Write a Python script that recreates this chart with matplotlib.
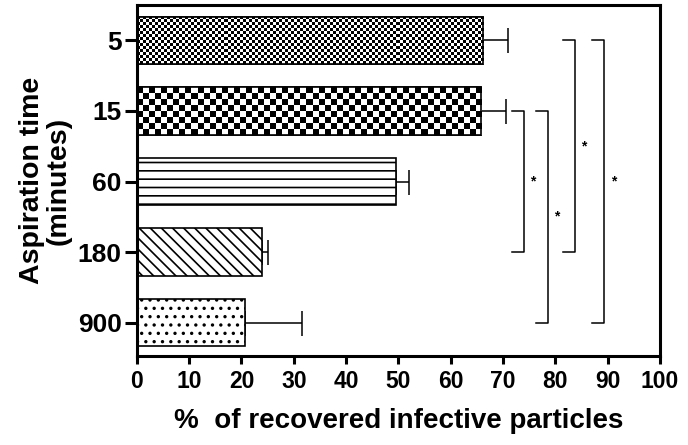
import numpy as np
import matplotlib
matplotlib.use("Agg")
import matplotlib.pyplot as plt

plt.rcParams["font.family"] = ["Liberation Sans", "DejaVu Sans"]
plt.rcParams["font.weight"] = "bold"
plt.rcParams["hatch.linewidth"] = 1.2

times = ["5", "15", "60", "180", "900"]
recovered = [66.2, 65.8, 49.5, 23.9, 20.6]
err_up = [4.8, 4.7, 2.6, 1.1, 11.0]

# significance brackets: (row a, row b, x position)
brackets = [(1, 3, 74.0), (1, 4, 78.6), (0, 3, 83.8), (0, 4, 89.4)]

fig = plt.figure(figsize=(6.88, 4.45), dpi=100)
ax = fig.add_axes([0.199, 0.2, 0.76, 0.789])

y = np.arange(len(times))
h = 0.67
bars = ax.barh(y, recovered, height=h, color="white", edgecolor="black",
               linewidth=1.2, zorder=2)

# hatches for the line/dot bars
bars[2].set_hatch("--")
bars[3].set_hatch("\\\\\\")
bars[4].set_hatch("..")

# checkerboards for the first two bars, clipped to the bar
px_x = 5.21        # pixels per x unit
px_y = 70.5        # pixels per row
for i, cell in [(0, 3.0), (1, 6.0)]:
    ncol = int(round(recovered[i] * px_x / cell))
    nrow = int(round(h * px_y / cell))
    board = (np.add.outer(np.arange(nrow), np.arange(ncol)) % 2).astype(float)
    im = ax.imshow(board, cmap="gray", interpolation="nearest", aspect="auto",
                   extent=(0, recovered[i], y[i] + h / 2, y[i] - h / 2), zorder=2.5)
    im.set_clip_path(bars[i])
    ax.barh(y[i], recovered[i], height=h, color="none", edgecolor="black",
            linewidth=1.2, zorder=3)

ax.errorbar(recovered, y, xerr=[np.zeros(len(y)), err_up], fmt="none",
            ecolor="black", elinewidth=1.1, capsize=9, capthick=1.1, zorder=1)

for a, b, xb in brackets:
    ax.plot([xb - 2.3, xb, xb, xb - 2.3], [y[a], y[a], y[b], y[b]],
            color="black", lw=1.1, clip_on=False)
    ax.text(xb + 1.7, (y[a] + y[b]) / 2, "*", ha="center", va="center",
            fontsize=10)

ax.set_xlim(0, 100)
ax.set_ylim(4.47, -0.5)
ax.set_xticks(np.arange(0, 101, 10))
ax.set_yticks(y)
ax.set_yticklabels(times)
for s in ax.spines.values():
    s.set_linewidth(2.2)
ax.tick_params(axis="x", width=2.2, length=6, labelsize=16.5, pad=4)
ax.tick_params(axis="y", width=2.2, length=9, labelsize=19, pad=2)
ax.set_xlabel("%  of recovered infective particles", fontsize=20,
              fontweight="bold", labelpad=11)
ax.set_ylabel("Aspiration time\n(minutes)", fontsize=20.5, fontweight="bold",
              labelpad=4, linespacing=1.05)

fig.savefig("out.png", dpi=100)
